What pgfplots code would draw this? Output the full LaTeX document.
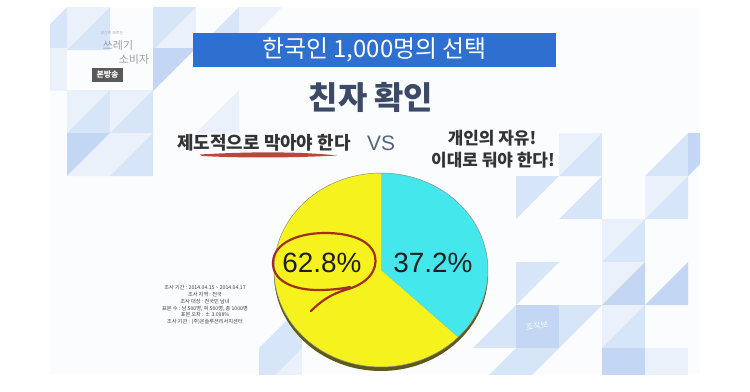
\documentclass[border=0pt]{standalone}
\usepackage{pgfplots}
\pgfplotsset{compat=1.18}
\usepackage{pgfplotstable}
\usepackage{fontspec}
\setmainfont{Liberation Sans}
\newfontfamily\kr{Noto Sans CJK KR}
\definecolor{titleblue}{HTML}{2F6FCF}
\definecolor{headc}{HTML}{3B4A66}
\definecolor{vsc}{HTML}{55657D}
\definecolor{pieY}{HTML}{F6F21E}
\definecolor{pieC}{HTML}{44E8EC}
\definecolor{rim}{HTML}{5E5A1A}
\definecolor{cA}{HTML}{EAF1FB}
\definecolor{cB}{HTML}{D7E5F8}
\definecolor{cC}{HTML}{C3D6F4}
\definecolor{panel}{HTML}{FBFCFE}
\definecolor{circ}{HTML}{A0301C}
\pgfplotstableread{
label value
A 62.8
B 37.2
}\piedata
\pgfplotstablegetelem{0}{value}\of\piedata \let\valA\pgfplotsretval
\pgfplotstablegetelem{1}{value}\of\piedata \let\valB\pgfplotsretval
\pgfmathsetmacro\angB{3.6*\valB}
\newcommand\sq[3]{\fill[#3] (#1,#2) rectangle ({#1+43},{#2+43});}
\newcommand\tul[3]{\fill[#3] (#1,#2) -- ({#1+43},#2) -- (#1,{#2+43}) -- cycle;}
\newcommand\tlr[3]{\fill[#3] ({#1+43},#2) -- ({#1+43},{#2+43}) -- (#1,{#2+43}) -- cycle;}
\begin{document}
\begin{tikzpicture}
\begin{axis}[width=750bp, height=391bp, scale only axis,
  xmin=0, xmax=750, ymin=0, ymax=391, y dir=reverse,
  hide axis, clip=false]
% background
\fill[white] (0,0) rectangle (750,391);
\fill[panel] (50,8) rectangle (700,374);
\begin{scope}
\clip (50,8) rectangle (700,374);
% top-left decorations
\tlr{24}{7}{cB}
\sq{67}{7}{cA}\tlr{67}{7}{cB}
\sq{153}{7}{cA}\tul{153}{7}{cB}
\tul{153}{48}{cC}
\sq{24}{48}{cA}
\tlr{196}{7}{cB}
\tul{239}{7}{cA}
\sq{67}{90}{cA}\tlr{67}{90}{cB}
\sq{110}{90}{cA}\tlr{110}{90}{cB}
\tlr{196}{90}{cA}
\tul{67}{133}{cC}\tlr{67}{133}{cA}
\sq{110}{133}{cA}\tlr{110}{133}{cB}
% right decorations
\sq{559}{133}{cA}\tlr{559}{133}{cB}
\tul{516}{176}{cB}
\tlr{559}{176}{cB}
\tlr{645}{133}{cB}
\tul{688}{133}{cC}
\sq{645}{176}{cA}\tlr{645}{176}{cB}
\sq{602}{219}{cA}\tlr{602}{219}{cB}
\sq{602}{262}{cA}\tlr{602}{262}{cC}
\tul{516}{262}{cB}
\tlr{473}{305}{cB}
\sq{516}{305}{cC}
\tul{559}{305}{cB}
\sq{602}{305}{cA}\tlr{602}{305}{cB}
\tlr{645}{262}{cC}
\sq{602}{348}{cC}
\tlr{473}{348}{cB}
\tul{516}{348}{cB}
\sq{645}{348}{cA}
\tlr{259}{305}{cB}
\sq{259}{348}{cA}\tul{259}{348}{cB}
\end{scope}
% logo top-left
\node[inner sep=0, text=gray!70, font=\kr\fontsize{4}{4}\selectfont] at (112,33) {당신이 모르는};
\node[inner sep=0, text=gray!75, font=\kr\fontsize{11}{11}\selectfont] at (118,45) {쓰레기};
\node[inner sep=0, text=gray!75, font=\kr\fontsize{11}{11}\selectfont] at (134,59.5) {소비자};
\fill[gray!70!black] (92,68) rectangle (123,82);
\node[inner sep=0, text=white, font=\kr\bfseries\fontsize{8}{8}\selectfont] at (107.5,75) {본방송};
% bottom-right logo
\node[text=white, font=\kr\fontsize{8}{8}\selectfont, rotate=10] at (537,326) {조작보};
% title
\fill[titleblue] (193,33) rectangle (556,67);
\node[text=white, font=\kr\fontsize{24}{24}\selectfont] at (374.5,50) {한국인 1,000명의 선택};
\node[text=headc, font=\kr\bfseries\fontsize{32}{32}\selectfont] at (371,97) {친자 확인};
% red brush underline
\fill[circ!85!red, opacity=0.85] (200,154.5) .. controls (250,151.5) and (300,151.5) .. (337,155.5)
   .. controls (300,157.5) and (250,158.5) .. (202,156) -- cycle;
\node[text=black!80, font=\kr\bfseries\fontsize{18}{18}\selectfont] at (264,143) {제도적으로 막아야 한다};
\node[text=vsc, font=\fontsize{21}{21}\selectfont] at (381,143) {VS};
\node[text=black!80, font=\kr\bfseries\fontsize{17}{17}\selectfont] at (492,138) {개인의 자유!};
\node[text=black!80, font=\kr\bfseries\fontsize{17}{17}\selectfont] at (493,160) {이대로 둬야 한다!};
% survey info
\node[text=black!75, align=center, font=\kr\fontsize{5.2}{6.9}\selectfont] at (205,305) {조사 기간 : 2014.04.15 \textasciitilde{} 2014.04.17\\조사 지역 : 전국\\조사 대상 : 전국민 남녀\\표본 수 : 남 500명, 여 500명, 총 1000명\\표본 오차 : ± 3.098\%\\조사 기관 : (주)온솔루션리서치센터};
% pie rim (3D edge)
\fill[rim] plot[domain=0:360, samples=120, variable=\t] ({381+107*sin(\t)},{274-97*cos(\t)}) -- cycle;
% pie slices
\fill[pieC] (381,270) -- plot[domain=0:\angB, samples=60, variable=\t] ({381+107*sin(\t)},{270-97*cos(\t)}) -- cycle;
\fill[pieY] (381,270) -- plot[domain=\angB:360, samples=90, variable=\t] ({381+107*sin(\t)},{270-97*cos(\t)}) -- cycle;
\draw[black!45, line width=0.5] plot[domain=0:360, samples=120, variable=\t] ({381+107*sin(\t)},{270-97*cos(\t)}) -- cycle;
% labels
\node[text=black!88, font=\fontsize{28}{28}\selectfont] at (322,263) {\valA\%};
\node[text=black!88, font=\fontsize{28}{28}\selectfont] at (433,263) {\valB\%};
% hand-drawn circle
\draw[circ, line width=2.2, line cap=round] (311,311) .. controls (322,300) and (332,294) .. (345,290)
  .. controls (368,284) and (378,270) .. (375,256)
  .. controls (371,240) and (350,233) .. (325,233)
  .. controls (298,233) and (274,243) .. (273,262)
  .. controls (272,280) and (292,290) .. (318,290)
  .. controls (330,290) and (340,289) .. (350,287);
\end{axis}
\end{tikzpicture}
\end{document}
